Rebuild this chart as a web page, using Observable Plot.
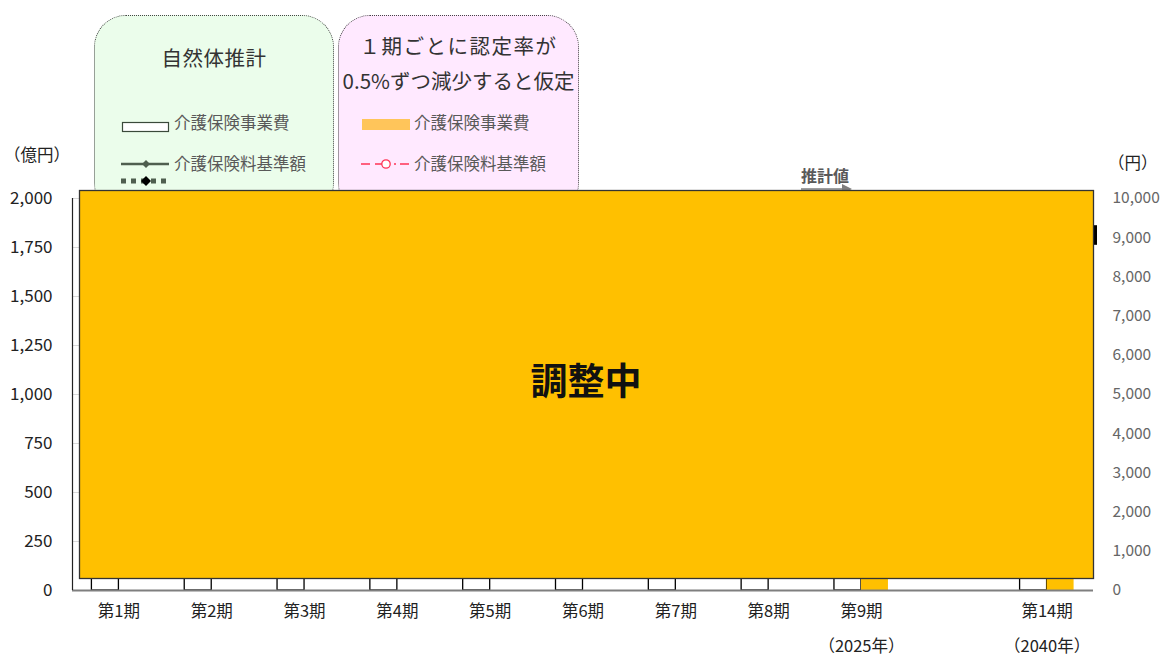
<!DOCTYPE html>
<html><head><meta charset="utf-8">
<script src="https://cdn.jsdelivr.net/npm/d3@7"></script>
<script src="https://cdn.jsdelivr.net/npm/@observablehq/plot@0.6"></script>
<style>
body{margin:0;background:#fff;font-family:"Noto Sans CJK JP","Noto Sans",sans-serif;}
#wrap{position:relative;width:1165px;height:659px;overflow:hidden;}
.abs{position:absolute;white-space:nowrap;}
.box{position:absolute;top:15px;height:200px;border:1px dotted #444;border-radius:32px;box-sizing:border-box;}
.ttl{position:absolute;left:-10px;right:-10px;text-align:center;font-size:20.5px;color:#333;white-space:nowrap;}
.it{position:absolute;font-size:16.5px;color:#595959;white-space:nowrap;}
#chart{position:absolute;left:0;top:0;}
</style></head>
<body><div id="wrap">
  <div class="box" style="left:94px;width:240px;background:#EBFDEB;">
    <div class="ttl" style="top:26px;letter-spacing:0.5px;">自然体推計</div>
    <svg class="abs" style="left:26px;top:100px;" width="50" height="80">
      <rect x="1.5" y="6.5" width="46" height="9" fill="#fff" stroke="#3a4a3a" stroke-width="1.2"/>
      <line x1="0" y1="48" x2="48" y2="48" stroke="#4f5f4f" stroke-width="2.5"/>
      <path d="M25 44 L29 48 L25 52 L21 48 Z" fill="#4f5f4f"/>
      <line x1="0" y1="65" x2="48" y2="65" stroke="#4f5f4f" stroke-width="5" stroke-dasharray="5,5"/>
      <path d="M25 60 L30 65 L25 70 L20 65 Z" fill="#000"/>
    </svg>
    <div class="it" style="left:79px;top:94px;">介護保険事業費</div>
    <div class="it" style="left:79px;top:135px;">介護保険料基準額</div>
  </div>
  <div class="box" style="left:338px;width:241px;background:#FFE9FF;">
    <div class="ttl" style="top:14px;letter-spacing:1.5px;">１期ごとに認定率が</div>
    <div class="ttl" style="top:49px;">0.5%ずつ減少すると仮定</div>
    <svg class="abs" style="left:22px;top:100px;" width="52" height="60">
      <rect x="1" y="3" width="48" height="11" fill="#FFC55A"/>
      <line x1="0" y1="48" x2="50" y2="48" stroke="#FF3355" stroke-width="1.3" stroke-dasharray="9,5,14,5,2,4"/>
      <circle cx="25" cy="48" r="4.2" fill="#fff" stroke="#FF3355" stroke-width="1.3"/>
    </svg>
    <div class="it" style="left:75px;top:94px;">介護保険事業費</div>
    <div class="it" style="left:75px;top:135px;">介護保険料基準額</div>
  </div>
  <div class="abs" style="left:4px;top:142px;font-size:16.5px;color:#222;">（億円）</div>
  <div class="abs" style="left:1108px;top:150px;font-size:16.5px;color:#222;">（円）</div>
  <div class="abs" style="left:801px;top:163px;font-size:16px;font-weight:bold;color:#595959;">推計値</div>
  <svg class="abs" style="left:798px;top:182px;" width="60" height="14">
    <line x1="3" y1="7" x2="50" y2="7" stroke="#7f7f7f" stroke-width="1.5"/>
    <path d="M44 2 L54 7 L44 12 Z" fill="#7f7f7f"/>
  </svg>
  <div id="chart"></div>
</div>
<script>
const periods = ["第1期","第2期","第3期","第4期","第5期","第6期","第7期","第8期","第9期","","第14期"];
const yearLabels = {"第9期":"（2025年）","第14期":"（2040年）"};
const naturalPeriods = ["第1期","第2期","第3期","第4期","第5期","第6期","第7期","第8期","第9期","第14期"];
const naturalCost = [420, 560, 700, 820, 960, 1100, 1230, 1370, 1520, 1880];
const naturalPremium = [2900, 3250, 3950, 4100, 4900, 5500, 5850, 6000, 6300, 9050];
const scenarioPeriods = ["第9期","第14期"];
const scenarioCost = [1500, 1760];
const scenarioPremium = [6200, 8500];
const yenTicks = [0,1000,2000,3000,4000,5000,6000,7000,8000,9000,10000];
const okuTicks = [0,250,500,750,1000,1250,1500,1750,2000];
const lastMarker = [9056];

const nat = naturalPeriods.map((p,i)=>({p, cost:naturalCost[i], prem:naturalPremium[i]/5}));
const scn = scenarioPeriods.map((p,i)=>({p, cost:scenarioCost[i], prem:scenarioPremium[i]/5}));
const bw = (1165-72-72)/periods.length;

const chart = Plot.plot({
  width:1165, height:659,
  marginLeft:72, marginRight:72, marginTop:198, marginBottom:69,
  style:{fontFamily:'"Noto Sans CJK JP","Noto Sans",sans-serif', fontSize:"15px", background:"transparent", color:"#222"},
  x:{type:"band", domain:periods, padding:0, round:false},
  y:{domain:[0,2000]},
  marks:[
    Plot.gridY(okuTicks, {stroke:"#d9d9d9", strokeOpacity:1}),
    Plot.barY(nat, {x:"p", y:"cost", fill:"white", stroke:"black", strokeWidth:1.3, insetLeft:bw/2-27, insetRight:bw/2}),
    Plot.barY(scn, {x:"p", y:"cost", fill:"#FFC000", insetLeft:bw/2, insetRight:bw/2-27}),
    Plot.line(nat, {x:"p", y:"prem", stroke:"#4f5f4f", strokeWidth:2.5, marker:"dot"}),
    Plot.line(scn, {x:"p", y:"prem", stroke:"#FF3355", strokeDasharray:"8,4", marker:"circle-stroke"}),
    Plot.ruleY([0], {stroke:"#7f7f7f", strokeWidth:2}),
    Plot.ruleX([periods[0]], {y1:0, y2:2000, dx:-bw/2, stroke:"#222", strokeWidth:1.2}),
    Plot.rect(lastMarker, {y1:d=>(d-250)/5, y2:d=>(d+250)/5, fill:"black", insetLeft:1021, insetRight:-4}),
    Plot.frame({fill:"#FFC000", stroke:"#333", strokeWidth:1.3, insetTop:-8, insetBottom:12, insetLeft:7}),
    Plot.text(["調整中"], {frameAnchor:"middle", dx:3, dy:-11, fontSize:37, fontWeight:"bold", fill:"#111"}),
    Plot.axisY(okuTicks, {anchor:"left", tickSize:0, tickPadding:20, tickFormat:d3.format(","), label:null, fontSize:17, fill:"#222"}),
    Plot.axisY(yenTicks.map(v=>v/5), {anchor:"right", tickSize:0, tickPadding:19, tickFormat:d=>d3.format(",")(d*5), label:null, fontSize:15.5, fill:"#666"}),
    Plot.axisX({tickSize:0, tickPadding:15, tickFormat:d=>d, label:null, fontSize:16.5, fill:"#222"}),
    Plot.axisX({tickSize:0, tickPadding:50, tickFormat:d=>yearLabels[d] ?? "", label:null, fontSize:16.5, fill:"#222"})
  ]
});
document.getElementById("chart").appendChild(chart);
</script>
</body></html>
